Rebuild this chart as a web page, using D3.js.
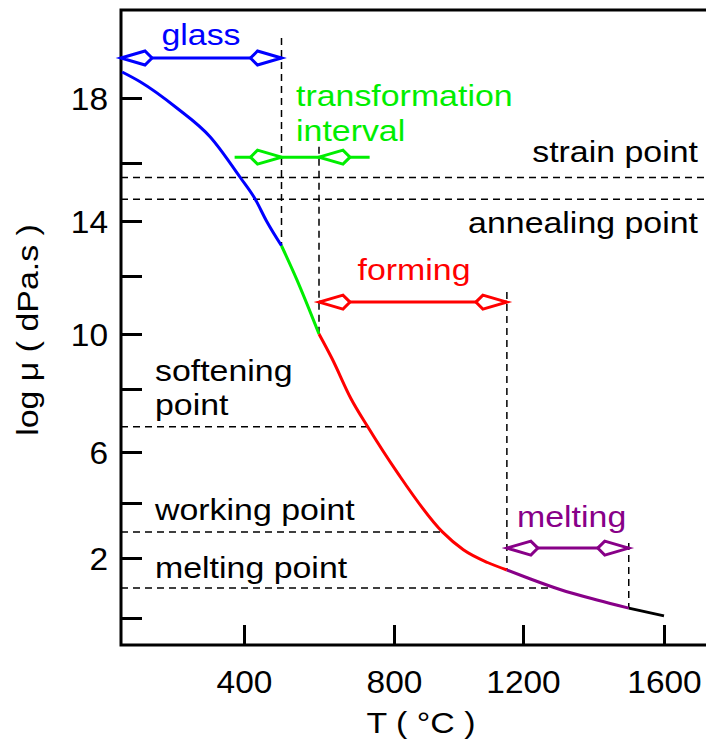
<!DOCTYPE html>
<html>
<head>
<meta charset="utf-8">
<script src="https://cdn.jsdelivr.net/npm/d3@7"></script>
<style>
  html, body { margin: 0; padding: 0; background: #fff; }
  svg { display: block; }
  text { font-family: "Liberation Sans", Arial, Helvetica, sans-serif; }
</style>
</head>
<body>
<svg id="chart" width="706" height="742"></svg>
<script>
// ---------- data ----------
const temps    = [75, 123, 220, 310, 390, 430, 460, 500, 540, 600, 635, 685, 730, 810, 950, 1015, 1090, 1150, 1210, 1305, 1410, 1500, 1600];
const logVisc  = [18.8, 18.5, 17.7, 16.8, 15.5, 14.75, 14.0, 13.1, 11.9, 10.0, 9.1, 7.7, 6.8, 5.2, 2.95, 2.3, 1.85, 1.6, 1.35, 0.95, 0.6, 0.33, 0.07];

const segBreaks = [500, 600, 1150, 1500];
const segColors = ["#0000ff", "#00ee00", "#ff0000", "#880088", "#000000"];

const rangeNames  = ["glass", "transformation", "forming", "melting"];
const rangeStart  = [72, 500, 600, 1150];
const rangeEnd    = [500, 600, 1150, 1500];
const rangeLevel  = [19.23, 16.18, 11.1, 2.36];
const rangeColors = ["#0000ff", "#00ee00", "#ff0000", "#880088"];
const transTails  = [375, 735];

const boundaryT   = [500, 600, 1150, 1500];
const boundaryTop = [19.85, 16.5, 11.45, 2.55];

const pointNames = ["strain point", "annealing point", "softening point", "working point", "melting point"];
const pointLog   = [15.5, 14.75, 6.8, 2.95, 1.0];
const pointFull  = [true, true, false, false, false];

const xTicks = [400, 800, 1200, 1600];
const yTicks = [0, 2, 4, 6, 8, 10, 12, 14, 16, 18];
const yLabelTicks = [2, 6, 10, 14, 18];

// ---------- scales ----------
const x = d3.scaleLinear().domain(xTicks).range([244, 394, 523, 664]);
const y = d3.scaleLinear().domain(yTicks).range([618, 558, 503, 452, 389, 334, 276, 221, 163, 98]);

const svg = d3.select("#chart");
const M = { left: 121, bottom: 645, top: 10, right: 706 };
const SX = 1.13;

function label(px, py, str, color, anchor, size) {
  svg.append("text")
    .attr("transform", `translate(${px},${py}) scale(${SX},1)`)
    .attr("text-anchor", anchor || "start")
    .attr("font-size", size || 30)
    .attr("fill", color || "#000")
    .text(str);
}

function tempAt(v) {
  for (let i = 0; i < logVisc.length - 1; i++) {
    if (logVisc[i] >= v && logVisc[i + 1] <= v) {
      const f = (logVisc[i] - v) / (logVisc[i] - logVisc[i + 1]);
      return temps[i] + f * (temps[i + 1] - temps[i]);
    }
  }
  return temps[temps.length - 1];
}
function logAt(t) {
  for (let i = 0; i < temps.length - 1; i++) {
    if (temps[i] <= t && temps[i + 1] >= t) {
      const f = (t - temps[i]) / (temps[i + 1] - temps[i]);
      return logVisc[i] + f * (logVisc[i + 1] - logVisc[i]);
    }
  }
  return logVisc[logVisc.length - 1];
}

// ---------- reference (dashed) lines ----------
const dash = "7,5";
pointLog.forEach((v, i) => {
  const xEnd = pointFull[i] ? M.right : x(tempAt(v));
  svg.append("line")
    .attr("x1", M.left).attr("x2", xEnd)
    .attr("y1", y(v)).attr("y2", y(v))
    .attr("stroke", "#000").attr("stroke-width", 1.5)
    .attr("stroke-dasharray", dash);
});
boundaryT.forEach((t, i) => {
  svg.append("line")
    .attr("x1", x(t)).attr("x2", x(t))
    .attr("y1", y(boundaryTop[i])).attr("y2", y(logAt(t)))
    .attr("stroke", "#000").attr("stroke-width", 1.5)
    .attr("stroke-dasharray", dash);
});

// ---------- axes ----------
const TSX = 1.08;
const xAxis = d3.axisBottom(x).tickValues(xTicks).tickFormat(d3.format("d"))
  .tickSizeInner(-20).tickSizeOuter(0).tickPadding(26);
const gx = svg.append("g").attr("transform", `translate(0,${M.bottom})`).call(xAxis);
gx.select(".domain").remove();
gx.selectAll(".tick line").attr("stroke", "#000").attr("stroke-width", 3);
gx.selectAll(".tick text").attr("font-size", 31).attr("fill", "#000")
  .attr("font-family", "'Liberation Sans', Arial, sans-serif")
  .attr("transform", `scale(${TSX},1)`)
  .attr("x", function () { return 0; });
// keep horizontal stretch centred on each tick
gx.selectAll(".tick").each(function (d) {
  d3.select(this).select("text").attr("transform", `scale(${TSX},1)`);
});

const yAxis = d3.axisLeft(y).tickValues(yTicks).tickSizeInner(-21).tickSizeOuter(0).tickPadding(0)
  .tickFormat(d => yLabelTicks.includes(d) ? d : "");
const gy = svg.append("g").attr("transform", `translate(${M.left},0)`).call(yAxis);
gy.select(".domain").remove();
gy.selectAll(".tick line").attr("stroke", "#000").attr("stroke-width", 3);
gy.selectAll(".tick text").attr("font-size", 31).attr("fill", "#000").attr("dy", "0.38em")
  .attr("x", 0)
  .attr("transform", `translate(-13,0) scale(${TSX},1)`)
  .attr("font-family", "'Liberation Sans', Arial, sans-serif");

svg.append("path")
  .attr("d", `M${M.right},${M.top}H${M.left}V${M.bottom}H${M.right}`)
  .attr("fill", "none").attr("stroke", "#000").attr("stroke-width", 3);

// ---------- curve ----------
const pts = temps.map((t, i) => [t, logVisc[i]]);
const line = d3.line().x(d => x(d[0])).y(d => y(d[1])).curve(d3.curveMonotoneX);
const bounds = [-Infinity, ...segBreaks, Infinity];
segColors.forEach((c, k) => {
  const seg = pts.filter(p => p[0] >= bounds[k] && p[0] <= bounds[k + 1]);
  svg.append("path").attr("d", line(seg))
    .attr("fill", "none").attr("stroke", c).attr("stroke-width", 3)
    .attr("stroke-linejoin", "round");
});

// ---------- range arrows ----------
function diamond(tipX, yy, dir, color) {
  const b = -dir;
  svg.append("path")
    .attr("d", `M${tipX},${yy}L${tipX + b * 24},${yy - 7}L${tipX + b * 31},${yy}L${tipX + b * 24},${yy + 7}Z`)
    .attr("fill", "#fff").attr("stroke", color).attr("stroke-width", 3)
    .attr("stroke-linejoin", "miter");
}
rangeNames.forEach((n, i) => {
  const yy = y(rangeLevel[i]);
  const c = rangeColors[i];
  const x0 = x(rangeStart[i]), x1 = x(rangeEnd[i]);
  if (n === "transformation") {
    svg.append("line").attr("x1", x(transTails[0])).attr("x2", x(transTails[1]))
      .attr("y1", yy).attr("y2", yy).attr("stroke", c).attr("stroke-width", 3);
    diamond(x0, yy, +1, c);
    diamond(x1, yy, -1, c);
  } else {
    svg.append("line").attr("x1", x0).attr("x2", x1)
      .attr("y1", yy).attr("y2", yy).attr("stroke", c).attr("stroke-width", 3);
    diamond(x0, yy, -1, c);
    diamond(x1, yy, +1, c);
  }
});

// ---------- annotation text ----------
label(201, 45, "glass", rangeColors[0], "middle");
label(296, 106, "transformation", rangeColors[1]);
label(296, 141, "interval", rangeColors[1]);
label(414, 280, "forming", rangeColors[2], "middle");
label(517, 527, "melting", rangeColors[3]);

label(698, 162, pointNames[0], "#000", "end");
label(698, 233, pointNames[1], "#000", "end");
label(155, 381, "softening", "#000");
label(155, 415, "point", "#000");
label(155, 520, pointNames[3], "#000");
label(155, 578, pointNames[4], "#000");

label(421, 733, "T ( °C )", "#000", "middle");
svg.append("text")
  .attr("transform", `translate(38,330) rotate(-90) scale(${SX},1)`)
  .attr("text-anchor", "middle").attr("font-size", 30).attr("fill", "#000")
  .text("log μ ( dPa.s )");
</script>
</body>
</html>
